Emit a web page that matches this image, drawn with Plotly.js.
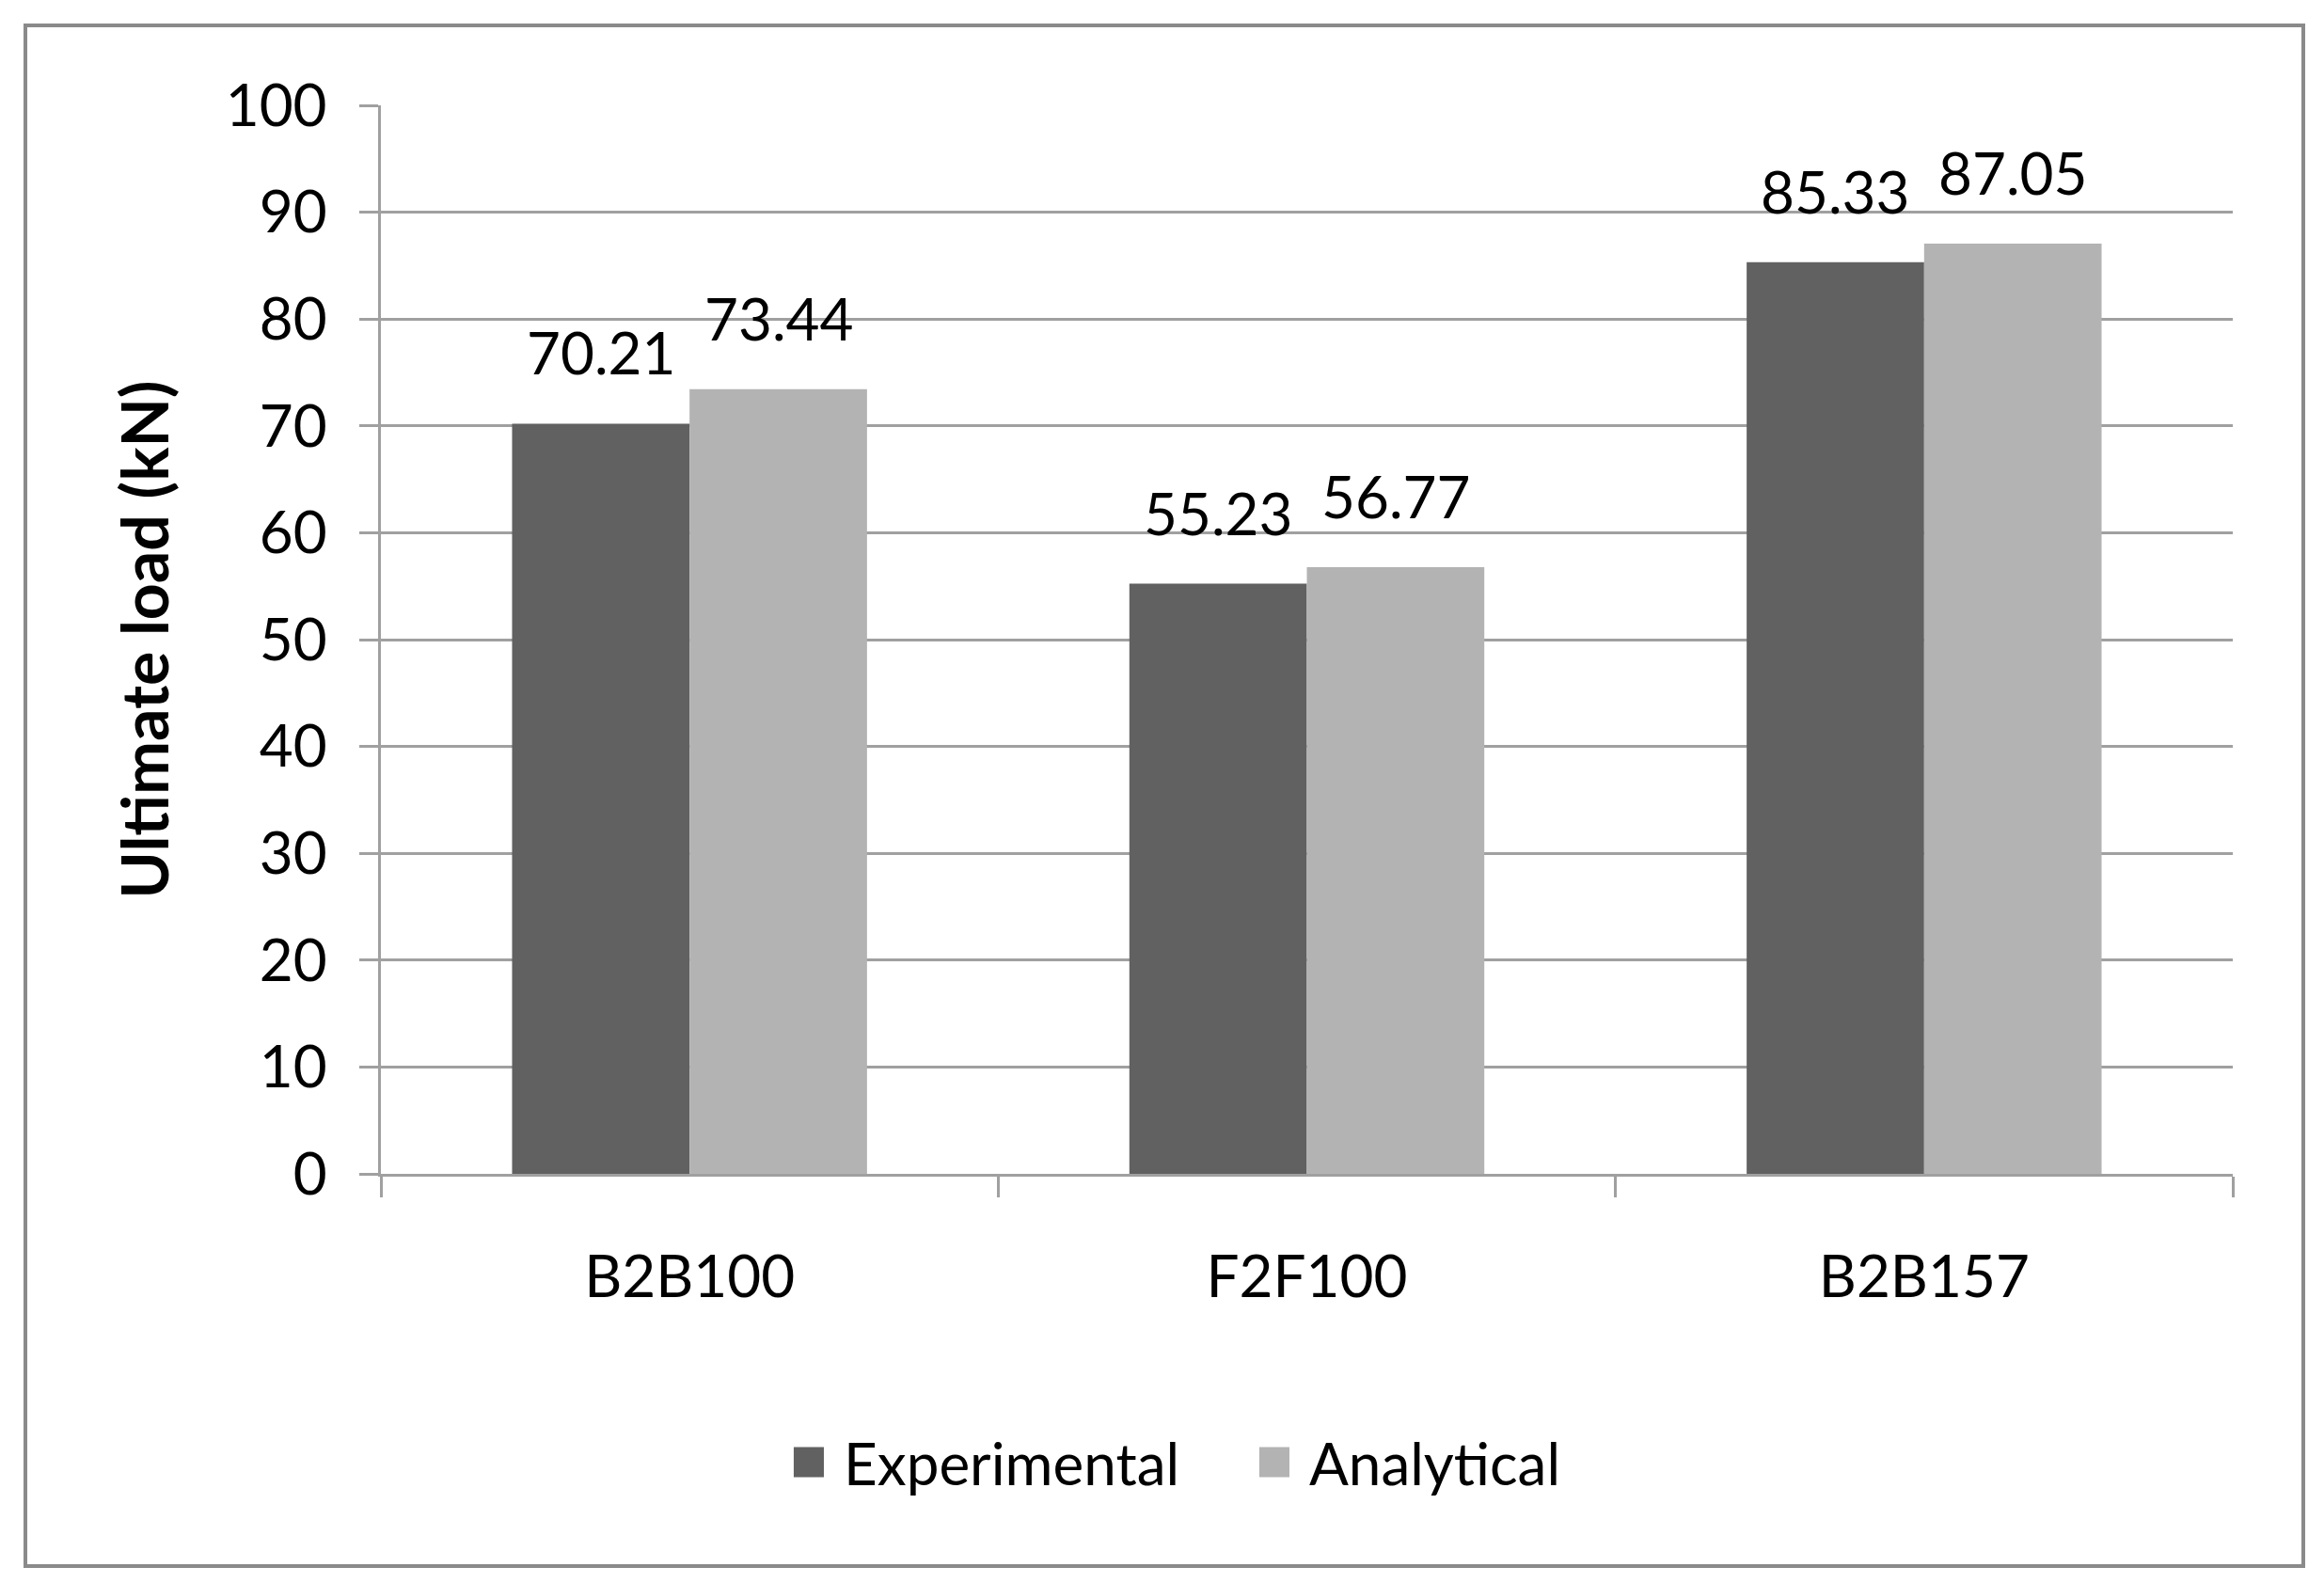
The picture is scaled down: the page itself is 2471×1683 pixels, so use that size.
<!DOCTYPE html>
<html>
<head>
<meta charset="utf-8">
<script src="https://cdn.plot.ly/plotly-3.0.1.min.js"></script>
<style>
  html, body { margin: 0; padding: 0; background: #ffffff; }
  #wrap { position: relative; width: 2471px; height: 1683px; }
  #chart { width: 2471px; height: 1683px; }
  #frame { position: absolute; left: 25px; top: 25px; width: 2418px; height: 1634px;
           border: 4px solid #8a8a8a; pointer-events: none; box-sizing: content-box; }
  .legend .legendpoints path { transform-box: fill-box; transform-origin: center;
                               transform: translate(33px, 0) scale(2.67); }
</style>
</head>
<body>
<div id="wrap">
  <div id="chart"></div>
  <div id="frame"></div>
</div>
<script>
const categories = ["B2B100", "F2F100", "B2B157"];
const experimental = [70.21, 55.23, 85.33];
const analytical = [73.44, 56.77, 87.05];
const seriesNames = ["Experimental", "Analytical"];
const yTicks = [0, 10, 20, 30, 40, 50, 60, 70, 80, 90, 100];

const FONT = "Lato, 'Open Sans', 'DejaVu Sans Condensed', sans-serif";
const W = 2471, H = 1683;
const margin = { l: 405, r: 97, t: 112, b: 435 };
const bargap = 0.425;
const gridCol = "#a0a0a0";
const FS = 62;

const traces = [
  { type: "bar", name: seriesNames[0], x: categories, y: experimental,
    marker: { color: "#616161", line: { width: 0 } }, hoverinfo: "x+y" },
  { type: "bar", name: seriesNames[1], x: categories, y: analytical,
    marker: { color: "#b3b3b3", line: { width: 0 } }, hoverinfo: "x+y" }
];

// data labels above each bar (positioned from the data values)
const plotW = W - margin.l - margin.r;
const barPx = plotW / categories.length * (1 - bargap) / seriesNames.length;
const annotations = [];
[experimental, analytical].forEach((vals, si) => {
  const shift = (si - (seriesNames.length - 1) / 2) * barPx;
  vals.forEach((v, i) => {
    annotations.push({
      x: categories[i], y: v, xref: "x", yref: "y",
      text: v.toFixed(2), showarrow: false,
      xshift: shift, yshift: 76, yanchor: "middle", xanchor: "center",
      font: { family: FONT, size: FS, color: "#000000" }
    });
  });
});

const layout = {
  width: W, height: H,
  margin: margin,
  paper_bgcolor: "#ffffff", plot_bgcolor: "#ffffff",
  barmode: "group", bargap: bargap, bargroupgap: 0,
  font: { family: FONT, size: FS, color: "#000000" },
  showlegend: true,
  legend: {
    orientation: "h", x: 0.2143, y: -0.27, xanchor: "left", yanchor: "middle",
    font: { family: FONT, size: FS, color: "#000000" },
    itemwidth: 60, entrywidth: 420, entrywidthmode: "pixels",
    tracegroupgap: 0, traceorder: "normal"
  },
  xaxis: {
    type: "category",
    showline: true, linecolor: gridCol, linewidth: 3,
    ticks: "outside", tickson: "boundaries", ticklen: 22, tickwidth: 3, tickcolor: gridCol,
    ticklabelstandoff: 54,
    showgrid: false, zeroline: false,
    tickfont: { family: FONT, size: FS, color: "#000000" }
  },
  yaxis: {
    range: [0, 100], tickvals: yTicks, ticktext: yTicks.map(String),
    showline: true, linecolor: gridCol, linewidth: 3,
    ticks: "outside", ticklen: 20, tickwidth: 3, tickcolor: gridCol,
    ticklabelstandoff: 22,
    showgrid: true, gridcolor: gridCol, gridwidth: 3, zeroline: false,
    tickfont: { family: FONT, size: FS, color: "#000000" },
    automargin: true,
    title: { text: "Ultimate load (kN)", standoff: 38,
             font: { family: FONT, size: 68, color: "#000000", weight: "bold" } }
  },
  annotations: annotations
};

Plotly.newPlot("chart", traces, layout, { displayModeBar: false, staticPlot: true });
</script>
</body>
</html>
